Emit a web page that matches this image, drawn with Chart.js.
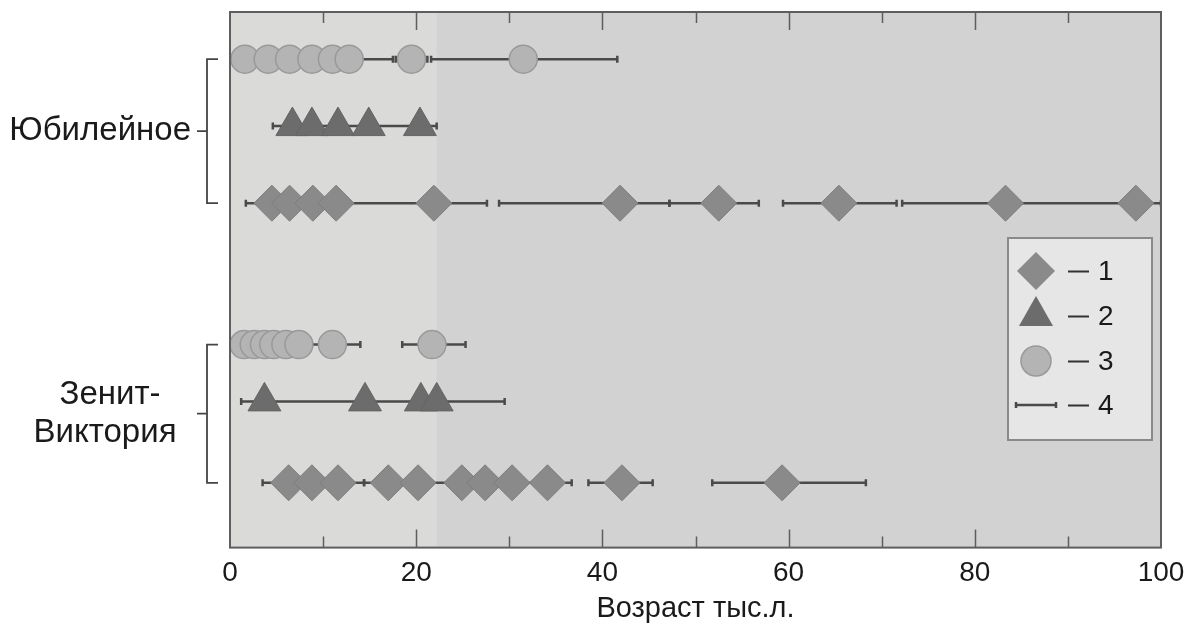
<!DOCTYPE html>
<html>
<head>
<meta charset="utf-8">
<script src="https://cdn.jsdelivr.net/npm/chart.js@4.4.0/dist/chart.umd.min.js"></script>
<style>
  body { margin: 0; background: #fff; }
</style>
</head>
<body>
<canvas id="ageChart" width="1190" height="633"></canvas>
<script>
// row positions on the hidden y scale (0 = top, 10 = bottom)
const rowPos = [0.88, 2.13, 3.57, 6.21, 7.27, 8.79];
const siteNames = [['Юбилейное'], ['Зенит-', 'Виктория']];
const xTicks = [0, 20, 40, 60, 80, 100];
const shadeEdge = 22.2;

// Юбилейное
const jubCircles = [1.6, 4.1, 6.4, 8.8, 11.0, 12.8, 19.5, 31.5];
const jubTriangles = [6.7, 8.8, 11.6, 14.9, 20.4];
const jubDiamonds = [4.5, 6.4, 8.9, 11.4, 21.9, 41.9, 52.5, 65.4, 83.3, 97.3];
const jubCircleErr = [[8.1, 17.5], [17.8, 21.2], [21.6, 41.6]];
const jubTriangleErr = [[4.6, 22.2]];
const jubDiamondErr = [[1.7, 27.6], [28.9, 47.2], [47.2, 56.8], [59.4, 71.6], [72.2, 100]];

// Зенит-Виктория
const zenCircles = [1.5, 2.6, 3.7, 4.7, 6.0, 7.4, 11.0, 21.7];
const zenTriangles = [3.7, 14.5, 20.5, 22.2];
const zenDiamonds = [6.3, 8.8, 11.6, 17.0, 20.2, 24.9, 27.4, 30.3, 34.1, 42.1, 59.3];
const zenCircleErr = [[8.0, 14.0], [18.5, 25.3]];
const zenTriangleErr = [[1.2, 29.5]];
const zenDiamondErr = [[3.5, 14.4], [14.4, 36.7], [38.5, 45.4], [51.8, 68.3]];

const legendLabels = ['1', '2', '3', '4'];

const styles = {
    diamond: { pointStyle: 'rectRot', pointRadius: 18, pointBackgroundColor: '#8a8a8a', pointBorderColor: '#7e7e7e', pointBorderWidth: 1 },
    triangle: { pointStyle: 'triangle', pointRadius: 19, pointBackgroundColor: '#6c6c6c', pointBorderColor: '#646464', pointBorderWidth: 1 },
    circle: { pointStyle: 'circle', pointRadius: 14, pointBackgroundColor: '#b4b4b4', pointBorderColor: '#999999', pointBorderWidth: 1.5 }
};
const errColor = '#4a4a4a';

function markerSet(values, row, kind) {
    return Object.assign({
        data: values.map(v => ({ x: v, y: rowPos[row] })),
        showLine: false,
        order: 1
    }, styles[kind]);
}

function errorSets(ranges, row) {
    return ranges.map(r => ({
        data: [{ x: r[0], y: rowPos[row] }, { x: r[1], y: rowPos[row] }],
        showLine: true,
        borderColor: errColor,
        borderWidth: 2.5,
        pointStyle: 'line',
        rotation: 90,
        pointRadius: 3.5,
        pointBorderColor: errColor,
        pointBorderWidth: 2.5,
        order: 2
    }));
}

const datasets = [
    ...errorSets(jubCircleErr, 0),
    ...errorSets(jubTriangleErr, 1),
    ...errorSets(jubDiamondErr, 2),
    ...errorSets(zenCircleErr, 3),
    ...errorSets(zenTriangleErr, 4),
    ...errorSets(zenDiamondErr, 5),
    markerSet(jubCircles, 0, 'circle'),
    markerSet(jubTriangles, 1, 'triangle'),
    markerSet(jubDiamonds, 2, 'diamond'),
    markerSet(zenCircles, 3, 'circle'),
    markerSet(zenTriangles, 4, 'triangle'),
    markerSet(zenDiamonds, 5, 'diamond')
];

const FONT = "'Liberation Sans', Arial, sans-serif";

// two-tone background of the plot area
const backgroundPlugin = {
    id: 'background',
    beforeDatasetsDraw(chart) {
        const { ctx, chartArea: a, scales: { x } } = chart;
        const edge = x.getPixelForValue(shadeEdge);
        ctx.save();
        ctx.fillStyle = '#d2d2d2';
        ctx.fillRect(a.left, a.top, a.right - a.left, a.bottom - a.top);
        ctx.fillStyle = '#dadad8';
        ctx.fillRect(a.left, a.top, edge - a.left, a.bottom - a.top);
        ctx.restore();
    }
};

// frame with inward ticks, site labels with brackets, legend box
const framePlugin = {
    id: 'frame',
    afterDraw(chart) {
        const { ctx, chartArea: a, scales: { x, y } } = chart;
        ctx.save();
        ctx.strokeStyle = '#5e5e5e';
        ctx.lineWidth = 2;
        ctx.strokeRect(a.left, a.top, a.right - a.left, a.bottom - a.top);

        ctx.lineWidth = 1.5;
        ctx.beginPath();
        for (let v = 10; v < 100; v += 10) {
            const px = Math.round(x.getPixelForValue(v)) + 0.5;
            const len = xTicks.includes(v) ? 18 : 11;
            ctx.moveTo(px, a.bottom); ctx.lineTo(px, a.bottom - len);
            ctx.moveTo(px, a.top); ctx.lineTo(px, a.top + len);
        }
        ctx.stroke();

        // site labels + brackets
        const groups = [[0, 2], [3, 5]];
        ctx.strokeStyle = '#444';
        ctx.lineWidth = 1.8;
        ctx.fillStyle = '#1a1a1a';
        ctx.font = '33px ' + FONT;
        ctx.textBaseline = 'middle';
        groups.forEach((g, i) => {
            const y1 = y.getPixelForValue(rowPos[g[0]]);
            const y2 = y.getPixelForValue(rowPos[g[1]]);
            const mid = (y1 + y2) / 2;
            ctx.beginPath();
            ctx.moveTo(218, y1); ctx.lineTo(207, y1); ctx.lineTo(207, y2); ctx.lineTo(218, y2);
            ctx.moveTo(197, mid); ctx.lineTo(207, mid);
            ctx.stroke();
            const lines = siteNames[i];
            if (lines.length === 1) {
                ctx.textAlign = 'right';
                ctx.fillText(lines[0], 191, mid);
            } else {
                ctx.textAlign = 'center';
                ctx.fillText(lines[0], 110, mid - 19);
                ctx.fillText(lines[1], 105, mid + 19);
            }
        });

        // legend
        const lx = a.right - 153, ly = 238, lw = 144, lh = 202;
        ctx.fillStyle = '#e6e6e6';
        ctx.fillRect(lx, ly, lw, lh);
        ctx.strokeStyle = '#8a8a8a';
        ctx.lineWidth = 2;
        ctx.strokeRect(lx, ly, lw, lh);

        const cx = lx + 28;
        const rows = [ly + 33, ly + 78, ly + 123, ly + 167];
        // diamond
        ctx.fillStyle = styles.diamond.pointBackgroundColor;
        ctx.beginPath();
        ctx.moveTo(cx, rows[0] - 19); ctx.lineTo(cx + 19, rows[0]);
        ctx.lineTo(cx, rows[0] + 19); ctx.lineTo(cx - 19, rows[0]);
        ctx.closePath(); ctx.fill();
        // triangle
        ctx.fillStyle = styles.triangle.pointBackgroundColor;
        ctx.beginPath();
        ctx.moveTo(cx, rows[1] - 20); ctx.lineTo(cx + 17, rows[1] + 10);
        ctx.lineTo(cx - 17, rows[1] + 10);
        ctx.closePath(); ctx.fill();
        // circle
        ctx.fillStyle = styles.circle.pointBackgroundColor;
        ctx.strokeStyle = styles.circle.pointBorderColor;
        ctx.lineWidth = 1.5;
        ctx.beginPath();
        ctx.arc(cx, rows[2], 15, 0, Math.PI * 2);
        ctx.fill(); ctx.stroke();
        // error bar
        ctx.strokeStyle = errColor;
        ctx.lineWidth = 2.5;
        ctx.beginPath();
        ctx.moveTo(cx - 20, rows[3]); ctx.lineTo(cx + 20, rows[3]);
        ctx.moveTo(cx - 20, rows[3] - 3); ctx.lineTo(cx - 20, rows[3] + 3);
        ctx.moveTo(cx + 20, rows[3] - 3); ctx.lineTo(cx + 20, rows[3] + 3);
        ctx.stroke();

        ctx.strokeStyle = '#333';
        ctx.lineWidth = 2;
        ctx.fillStyle = '#1a1a1a';
        ctx.font = '28px ' + FONT;
        ctx.textAlign = 'left';
        ctx.textBaseline = 'middle';
        rows.forEach((ry, i) => {
            ctx.beginPath();
            ctx.moveTo(lx + 60, ry + 0.5); ctx.lineTo(lx + 81, ry + 0.5);
            ctx.stroke();
            ctx.fillText(legendLabels[i], lx + 90, ry + 1);
        });
        ctx.restore();
    }
};

new Chart(document.getElementById('ageChart'), {
    type: 'scatter',
    data: { datasets },
    options: {
        responsive: false,
        animation: false,
        layout: { autoPadding: false, padding: { left: 230, right: 29, top: 12, bottom: 7 } },
        plugins: {
            legend: { display: false },
            tooltip: { enabled: false }
        },
        scales: {
            x: {
                type: 'linear',
                min: 0,
                max: 100,
                afterBuildTicks: scale => { scale.ticks = xTicks.map(v => ({ value: v })); },
                ticks: {
                    color: '#1a1a1a',
                    font: { family: FONT, size: 28 },
                    padding: 1
                },
                grid: { display: false },
                border: { display: false },
                title: {
                    display: true,
                    text: 'Возраст тыс.л.',
                    color: '#1a1a1a',
                    font: { family: FONT, size: 29 },
                    padding: { top: 0, bottom: 0 }
                }
            },
            y: {
                type: 'linear',
                min: 0,
                max: 10,
                reverse: true,
                display: false
            }
        }
    },
    plugins: [backgroundPlugin, framePlugin]
});
</script>
</body>
</html>
